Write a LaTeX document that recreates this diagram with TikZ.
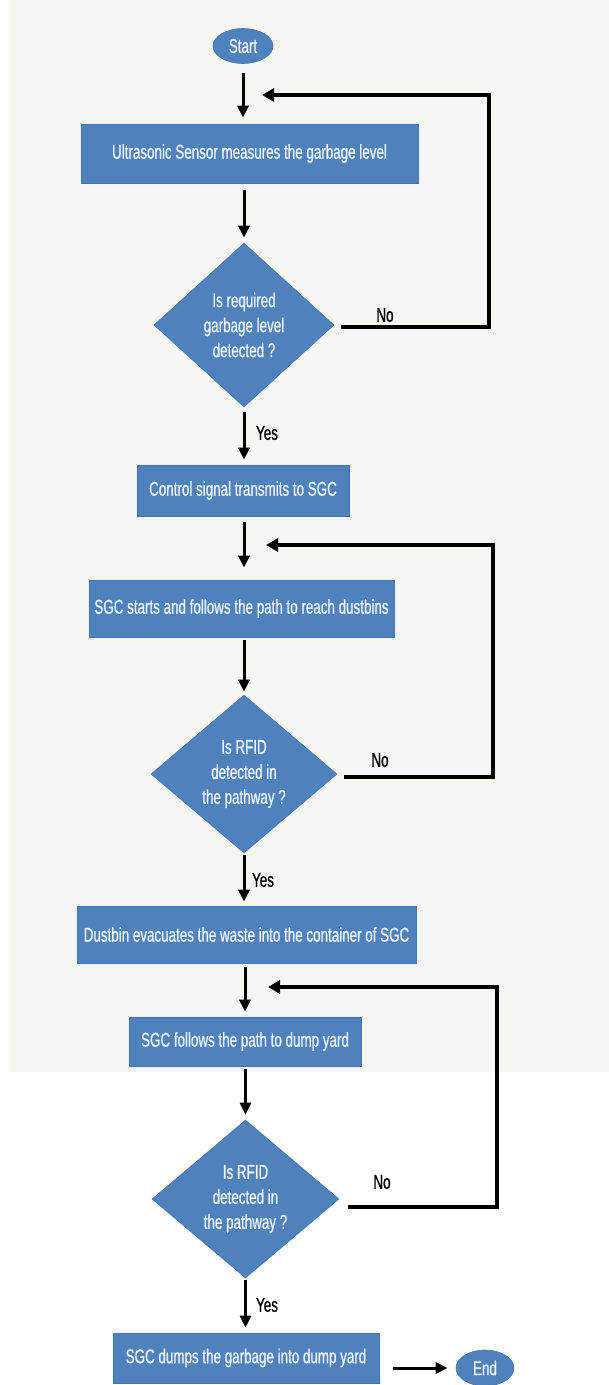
\documentclass[tikz,border=0pt]{standalone}
\usepackage{fontspec}
\setmainfont{Liberation Sans}[FakeStretch=0.67,FakeBold=0.8]
\usetikzlibrary{shapes.geometric,arrows.meta}
\definecolor{boxblue}{HTML}{4F81BD}
\definecolor{boxedge}{HTML}{4675AE}
\definecolor{bglight}{HTML}{F6F7F3}
\definecolor{txtwhite}{HTML}{F2F5FA}
\tikzset{
  base/.style={font=\fontsize{20}{25}\selectfont, text=txtwhite, fill=boxblue, draw=boxedge, line width=0.6pt, align=center},
  procbox/.style={base, rectangle, inner sep=0pt},
  decbox/.style={base, diamond, inner sep=0pt, aspect=1.13},
  termbox/.style={base, ellipse, inner sep=0pt},
  lbl/.style={font=\fontsize{20}{25}\selectfont, text=black},
  arr/.style={draw=black, line width=3pt, -{Triangle[length=12pt,width=11pt]}},
  looparr/.style={draw=black, line width=4pt, -{Triangle[length=12pt,width=13pt]}}
}
\begin{document}
\begin{tikzpicture}[x=1pt,y=-1pt]
\useasboundingbox (0,0) rectangle (609,1385);
\fill[white] (0,0) rectangle (609,1385);
\fill[bglight] (10,0) rectangle (609,1072);

% nodes
\node[termbox, minimum width=60pt, minimum height=35pt] (start) at (243,46) {Start};
\node[procbox, minimum width=337pt, minimum height=59pt] (b1) at (249.5,153.5) {Ultrasonic Sensor measures the garbage level};
\node[decbox, minimum width=180pt, minimum height=164pt] (d1) at (244,325) {Is required\\garbage level\\detected ?};
\node[procbox, minimum width=212pt, minimum height=51pt] (b2) at (243,490.5) {Control signal transmits to SGC};
\node[procbox, minimum width=305pt, minimum height=57pt] (b3) at (241.5,608.5) {SGC starts and follows the path to reach dustbins};
\node[decbox, minimum width=186pt, minimum height=158pt] (d2) at (244,774) {Is RFID\\detected in\\the pathway ?};
\node[procbox, minimum width=339pt, minimum height=57pt] (b4) at (246.5,934.5) {Dustbin evacuates the waste into the container of SGC};
\node[procbox, minimum width=232pt, minimum height=49pt] (b5) at (245,1041.5) {SGC follows the path to dump yard};
\node[decbox, minimum width=187pt, minimum height=158pt] (d3) at (245.5,1199) {Is RFID\\detected in\\the pathway ?};
\node[procbox, minimum width=266pt, minimum height=50pt] (b6) at (246,1358) {SGC dumps the garbage into dump yard};
\node[termbox, minimum width=58pt, minimum height=36pt] (end) at (485,1368) {End};

% labels
\node[lbl] (no1) at (385,315) {No};
\node[lbl] (no2) at (380,760) {No};
\node[lbl] (no3) at (382,1182) {No};
\node[lbl] (yes1) at (267,433) {Yes};
\node[lbl] (yes2) at (263,880) {Yes};
\node[lbl] (yes3) at (267,1305) {Yes};

% merge points and loop corners
\coordinate (j1) at (262,95);
\coordinate (r1) at (489,95);
\coordinate (j2) at (266,545);
\coordinate (r2) at (493,545);
\coordinate (j3) at (268,987);
\coordinate (r3) at (497,987);

% main flow
\draw[arr, shorten <=9pt, shorten >=6pt] (start.south) -- (start.south |- b1.north);
\draw[arr, shorten <=7pt, shorten >=5pt] (d1.north |- b1.south) -- (d1.north);
\draw[arr, shorten <=5pt, shorten >=5pt] (d1.south) -- (d1.south |- b2.north);
\draw[arr, shorten <=6pt, shorten >=12pt] (d1.south |- b2.south) -- (d1.south |- b3.north);
\draw[arr, shorten <=3pt, shorten >=3pt] (d2.north |- b3.south) -- (d2.north);
\draw[arr, shorten <=2pt, shorten >=4pt] (d2.south) -- (d2.south |- b4.north);
\draw[arr, shorten <=4pt, shorten >=5pt] (b5.north |- b4.south) -- (b5.north);
\draw[arr, shorten <=3pt, shorten >=5pt] (d3.north |- b5.south) -- (d3.north);
\draw[arr, shorten <=2pt, shorten >=5pt] (d3.south) -- (d3.south |- b6.north);
\draw[arr, shorten <=14pt, shorten >=8pt] (b6.east |- end.west) -- (end.west);

% loops
\draw[looparr, shorten <=7pt] (d1.east |- 0,327) -- (r1 |- 0,327) -- (r1) -- (j1);
\draw[looparr, shorten <=7pt] (d2.east |- 0,777) -- (r2 |- 0,777) -- (r2) -- (j2);
\draw[looparr, shorten <=9pt] (d3.east |- 0,1207) -- (r3 |- 0,1207) -- (r3) -- (j3);
\end{tikzpicture}
\end{document}
